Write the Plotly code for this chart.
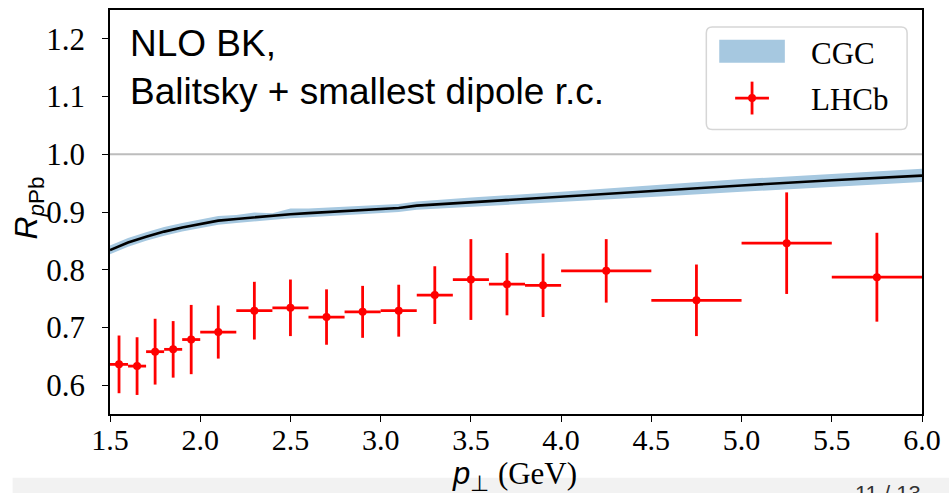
import plotly.graph_objects as go

# ---------------- data ----------------
cgc_x = [1.5, 1.6, 1.7, 1.8, 1.9, 2.0, 2.1, 2.2, 2.3, 2.4, 2.5, 2.6, 2.8, 3.0, 3.1, 3.2, 3.5, 4.0, 4.5, 5.0, 5.5, 6.0]
cgc_mid = [0.834, 0.847, 0.857, 0.866, 0.873, 0.879, 0.885, 0.888, 0.891, 0.893, 0.896, 0.898, 0.902, 0.905, 0.907, 0.911, 0.917, 0.926, 0.936, 0.946, 0.955, 0.963]
cgc_hi = [0.842, 0.855, 0.865, 0.874, 0.881, 0.887, 0.893, 0.895, 0.899, 0.898, 0.906, 0.906, 0.909, 0.912, 0.914, 0.918, 0.925, 0.935, 0.946, 0.957, 0.966, 0.975]
cgc_lo = [0.827, 0.840, 0.850, 0.859, 0.866, 0.872, 0.878, 0.881, 0.884, 0.886, 0.889, 0.891, 0.895, 0.898, 0.900, 0.904, 0.909, 0.917, 0.926, 0.935, 0.944, 0.952]

lhcb_x = [1.55, 1.65, 1.75, 1.85, 1.95, 2.1, 2.3, 2.5, 2.7, 2.9, 3.1, 3.3, 3.5, 3.7, 3.9, 4.25, 4.75, 5.25, 5.75]
lhcb_xerr = [0.05, 0.05, 0.05, 0.05, 0.05, 0.1, 0.1, 0.1, 0.1, 0.1, 0.1, 0.1, 0.1, 0.1, 0.1, 0.25, 0.25, 0.25, 0.25]
lhcb_y = [0.636, 0.633, 0.658, 0.662, 0.679, 0.692, 0.729, 0.734, 0.718, 0.727, 0.729, 0.756, 0.783, 0.775, 0.773, 0.798, 0.747, 0.846, 0.787]
lhcb_yerr = [0.050, 0.050, 0.057, 0.049, 0.060, 0.046, 0.050, 0.049, 0.048, 0.045, 0.045, 0.050, 0.070, 0.054, 0.055, 0.055, 0.062, 0.088, 0.077]

x_ticks = [1.5, 2.0, 2.5, 3.0, 3.5, 4.0, 4.5, 5.0, 5.5, 6.0]
y_ticks = [0.6, 0.7, 0.8, 0.9, 1.0, 1.1, 1.2]

# ---------------- layout geometry ----------------
W, H = 949, 493
L, R, T, B = 110, 927, 8, 414  # plot area in pixels


def px(x):
    return (x - L) / (R - L)


def py(y):
    return (B - y) / (B - T)


BAND = "#a6c8e0"
SERIF = "Liberation Serif"
SANS = "Liberation Sans"

fig = go.Figure()

fig.add_trace(go.Scatter(x=cgc_x, y=cgc_lo, mode="lines", line=dict(width=0, color=BAND),
                         showlegend=False, hoverinfo="skip"))
fig.add_trace(go.Scatter(x=cgc_x, y=cgc_hi, mode="lines", line=dict(width=0, color=BAND),
                         fill="tonexty", fillcolor=BAND, showlegend=False, hoverinfo="skip"))
fig.add_trace(go.Scatter(x=cgc_x, y=cgc_mid, mode="lines", line=dict(width=2.6, color="black"),
                         showlegend=False))
fig.add_trace(go.Scatter(
    x=lhcb_x, y=lhcb_y, mode="markers",
    marker=dict(color="red", size=8),
    error_x=dict(type="data", array=lhcb_xerr, color="red", thickness=2.8, width=0),
    error_y=dict(type="data", array=lhcb_yerr, color="red", thickness=2.8, width=0),
    showlegend=False))

shapes = []
# reference line at 1
shapes.append(dict(type="line", xref="paper", yref="y", x0=0, x1=1, y0=1.0, y1=1.0,
                   line=dict(color="#bdbdbd", width=2), layer="below"))
# footer strip
shapes.append(dict(type="rect", xref="paper", yref="paper", x0=px(12), x1=px(960),
                   y0=py(478), y1=py(500), fillcolor="#f2f2f2", line=dict(width=0), layer="below"))

# legend box with rounded corners
lx0, lx1, ly0, ly1, rr = 710, 912, 25, 128, 6


def P(x, y):
    return f"{px(x):.5f},{py(y):.5f}"


path = (f"M {P(lx0 + rr, ly0)} L {P(lx1 - rr, ly0)} Q {P(lx1, ly0)} {P(lx1, ly0 + rr)} "
        f"L {P(lx1, ly1 - rr)} Q {P(lx1, ly1)} {P(lx1 - rr, ly1)} "
        f"L {P(lx0 + rr, ly1)} Q {P(lx0, ly1)} {P(lx0, ly1 - rr)} "
        f"L {P(lx0, ly0 + rr)} Q {P(lx0, ly0)} {P(lx0 + rr, ly0)} Z")
shapes.append(dict(type="path", xref="paper", yref="paper", path=path,
                   fillcolor="rgba(255,255,255,0.8)", line=dict(color="#d6d6d6", width=1.5)))
# legend CGC patch
shapes.append(dict(type="rect", xref="paper", yref="paper", x0=px(723), x1=px(789),
                   y0=py(61), y1=py(38), fillcolor=BAND, line=dict(width=0)))
# legend LHCb cross
shapes.append(dict(type="line", xref="paper", yref="paper", x0=px(756), x1=px(756),
                   y0=py(113), y1=py(80), line=dict(color="red", width=2.8)))
shapes.append(dict(type="line", xref="paper", yref="paper", x0=px(739), x1=px(773),
                   y0=py(96.5), y1=py(96.5), line=dict(color="red", width=2.8)))
shapes.append(dict(type="circle", xref="paper", yref="paper", x0=px(752), x1=px(760),
                   y0=py(100.5), y1=py(92.5), fillcolor="red", line=dict(width=0)))

annotations = [
    dict(text="NLO BK,", x=px(128), y=py(42), xref="paper", yref="paper", xanchor="left",
         yanchor="middle", showarrow=False, font=dict(family=SANS, size=37, color="black")),
    dict(text="Balitsky + smallest dipole r.c.", x=px(128), y=py(90), xref="paper", yref="paper",
         xanchor="left", yanchor="middle", showarrow=False,
         font=dict(family=SANS, size=37, color="black")),
    dict(text="CGC", x=px(813), y=py(52), xref="paper", yref="paper", xanchor="left",
         yanchor="middle", showarrow=False, font=dict(family=SERIF, size=31, color="black")),
    dict(text="LHCb", x=px(813), y=py(98), xref="paper", yref="paper", xanchor="left",
         yanchor="middle", showarrow=False, font=dict(family=SERIF, size=31, color="black")),
    dict(text="<i>R</i><sub><i>p</i>Pb</sub>", x=px(28), y=py(207), xref="paper", yref="paper",
         xanchor="center", yanchor="middle", textangle=-90, showarrow=False,
         font=dict(family=SANS, size=32, color="black")),
    dict(text='<i>p</i><sub>⊥</sub> <span style="font-family:Liberation Serif">(GeV)</span>',
         x=px(517), y=py(476), xref="paper", yref="paper", xanchor="center", yanchor="middle",
         showarrow=False, font=dict(family=SANS, size=31, color="black")),
    dict(text="11 / 13", x=px(893), y=py(479), xref="paper", yref="paper", xanchor="center",
         yanchor="top", showarrow=False, font=dict(family=SANS, size=22, color="#333333")),
]

axis_common = dict(showline=True, linecolor="black", linewidth=1.6, mirror=True,
                   ticks="outside", ticklen=6, tickwidth=1.4, tickcolor="black",
                   showgrid=False, zeroline=False)

fig.update_layout(
    width=W, height=H,
    margin=dict(l=L, r=W - R, t=T, b=H - B),
    paper_bgcolor="white", plot_bgcolor="white",
    showlegend=False,
    xaxis=dict(range=[1.5, 6.0], tickvals=x_ticks, ticktext=[f"{v:.1f}" for v in x_ticks],
               ticklabelstandoff=-8, tickfont=dict(family=SERIF, size=30, color="black"),
               **axis_common),
    yaxis=dict(range=[0.55, 1.25], tickvals=y_ticks, ticktext=[f"{v:.1f}" for v in y_ticks],
               ticklabelstandoff=11, tickfont=dict(family=SERIF, size=31, color="black"),
               **axis_common),
    shapes=shapes,
    annotations=annotations,
)

fig.write_html("out.html")
